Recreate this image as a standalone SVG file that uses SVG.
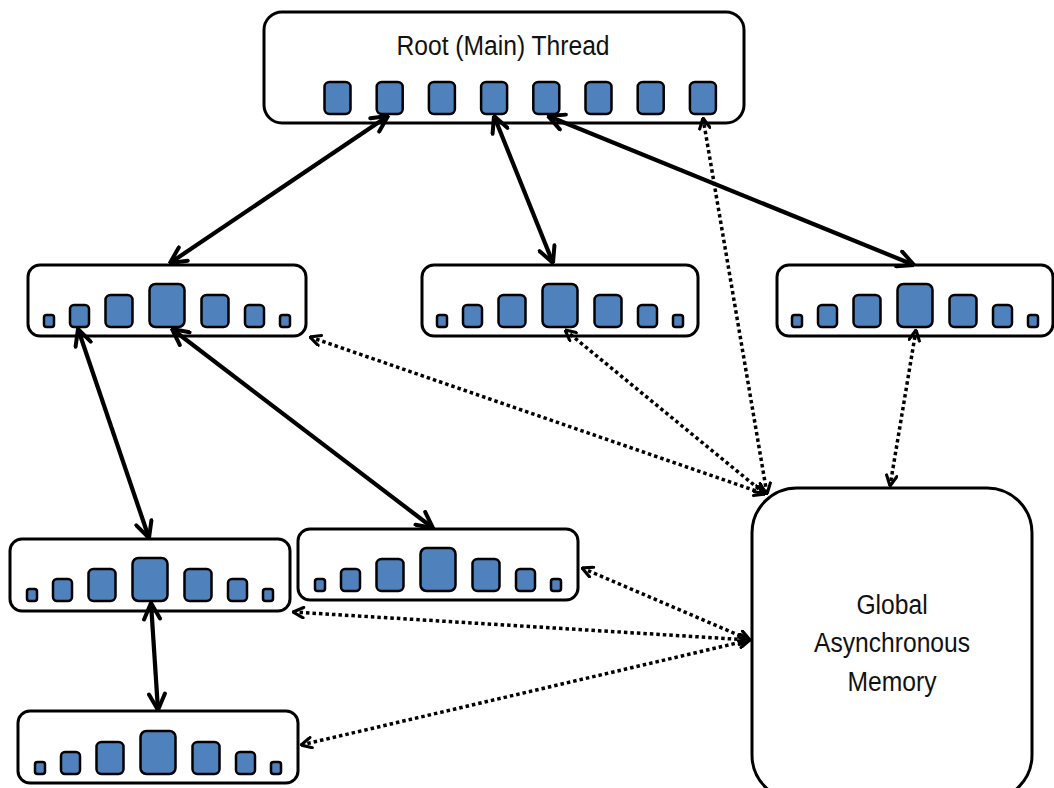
<svg xmlns="http://www.w3.org/2000/svg" xmlns:xlink="http://www.w3.org/1999/xlink" width="1054" height="788" viewBox="0 0 1054 788">
<style>
.box{fill:#fff;stroke:#000;stroke-width:3}
.sq{fill:#4F81BD;stroke:#000;stroke-width:2.5}
.lbl{font-family:"Liberation Sans",Arial,sans-serif;font-size:28px;fill:#111;text-anchor:middle}
.solid{fill:none;stroke:#000;stroke-width:4.2;marker-start:url(#hs);marker-end:url(#hs)}
.dot{fill:none;stroke:#000;stroke-width:3.5;stroke-dasharray:3.5 3;marker-start:url(#hd);marker-end:url(#hd)}
</style>
<defs>
<marker id="hs" viewBox="0 0 10 10" refX="9.5" refY="5" markerUnits="userSpaceOnUse" markerWidth="20" markerHeight="20" orient="auto-start-reverse">
<path d="M1.5,1 L9.5,5 L1.5,9" fill="none" stroke="#000" stroke-width="2" stroke-linecap="round" stroke-linejoin="miter"/>
</marker>
<marker id="hd" viewBox="0 0 10 10" refX="9.5" refY="5" markerUnits="userSpaceOnUse" markerWidth="13" markerHeight="13" orient="auto-start-reverse">
<path d="M1.5,1 L9.5,5 L1.5,9" fill="none" stroke="#000" stroke-width="2.4" stroke-linecap="round"/>
</marker>
<g id="bars">
<rect class="sq" x="-123" y="-12" width="10" height="12" rx="2.5"/>
<rect class="sq" x="-97" y="-22" width="19" height="22" rx="4"/>
<rect class="sq" x="-61.5" y="-32" width="27" height="32" rx="5"/>
<rect class="sq" x="-17.5" y="-43" width="35" height="43" rx="6"/>
<rect class="sq" x="34.5" y="-32" width="27" height="32" rx="5"/>
<rect class="sq" x="78" y="-22" width="19" height="22" rx="4"/>
<rect class="sq" x="113" y="-12" width="10" height="12" rx="2.5"/>
</g>
</defs>
<rect width="1054" height="788" fill="#fff"/>

<g id="root">
<rect class="box" x="264" y="12" width="480" height="111" rx="18"/>
<text class="lbl" transform="translate(503,55) scale(0.88,1)">Root (Main) Thread</text>
<rect class="sq" x="324.5" y="82" width="26" height="32" rx="5"/>
<rect class="sq" x="376.7" y="82" width="26" height="32" rx="5"/>
<rect class="sq" x="428.9" y="82" width="26" height="32" rx="5"/>
<rect class="sq" x="481.1" y="82" width="26" height="32" rx="5"/>
<rect class="sq" x="533.3" y="82" width="26" height="32" rx="5"/>
<rect class="sq" x="585.5" y="82" width="26" height="32" rx="5"/>
<rect class="sq" x="637.7" y="82" width="26" height="32" rx="5"/>
<rect class="sq" x="689.9" y="82" width="26" height="32" rx="5"/>
</g>

<g id="threadA">
<rect class="box" x="28" y="265" width="278" height="71" rx="12"/>
<use xlink:href="#bars" x="167" y="327"/>
</g>
<g id="threadB">
<rect class="box" x="422" y="265" width="276" height="71" rx="12"/>
<use xlink:href="#bars" x="560" y="327"/>
</g>
<g id="threadC">
<rect class="box" x="777" y="265" width="276" height="71" rx="12"/>
<use xlink:href="#bars" x="915" y="327"/>
</g>
<g id="threadD">
<rect class="box" x="10" y="539" width="280" height="72" rx="12"/>
<use xlink:href="#bars" x="150" y="601"/>
</g>
<g id="threadE">
<rect class="box" x="298" y="529" width="280" height="71" rx="12"/>
<use xlink:href="#bars" x="438" y="591"/>
</g>
<g id="threadF">
<rect class="box" x="18" y="711" width="280" height="72" rx="12"/>
<use xlink:href="#bars" x="158" y="774"/>
</g>

<g id="memory">
<rect class="box" x="752" y="488" width="280" height="312" rx="45"/>
<text class="lbl" transform="translate(892,614) scale(0.88,1)">Global</text>
<text class="lbl" transform="translate(892,652) scale(0.88,1)">Asynchronous</text>
<text class="lbl" transform="translate(892,691) scale(0.88,1)">Memory</text>
</g>

<g id="connectors">
<line class="solid" x1="388" y1="116" x2="170" y2="263"/>
<line class="solid" x1="494" y1="116" x2="553" y2="263"/>
<line class="solid" x1="548" y1="116" x2="914" y2="265"/>
<line class="solid" x1="78" y1="329" x2="149" y2="538"/>
<line class="solid" x1="172" y1="329" x2="433" y2="528"/>
<line class="solid" x1="151" y1="603" x2="158" y2="710"/>
<line class="dot" x1="703" y1="118" x2="767" y2="494"/>
<line class="dot" x1="565" y1="330" x2="765" y2="494"/>
<line class="dot" x1="310" y1="337" x2="765" y2="494"/>
<line class="dot" x1="916" y1="330" x2="890" y2="486"/>
<line class="dot" x1="582" y1="568" x2="750" y2="640"/>
<line class="dot" x1="293" y1="612" x2="750" y2="640"/>
<line class="dot" x1="301" y1="745" x2="750" y2="640"/>
</g>
</svg>
